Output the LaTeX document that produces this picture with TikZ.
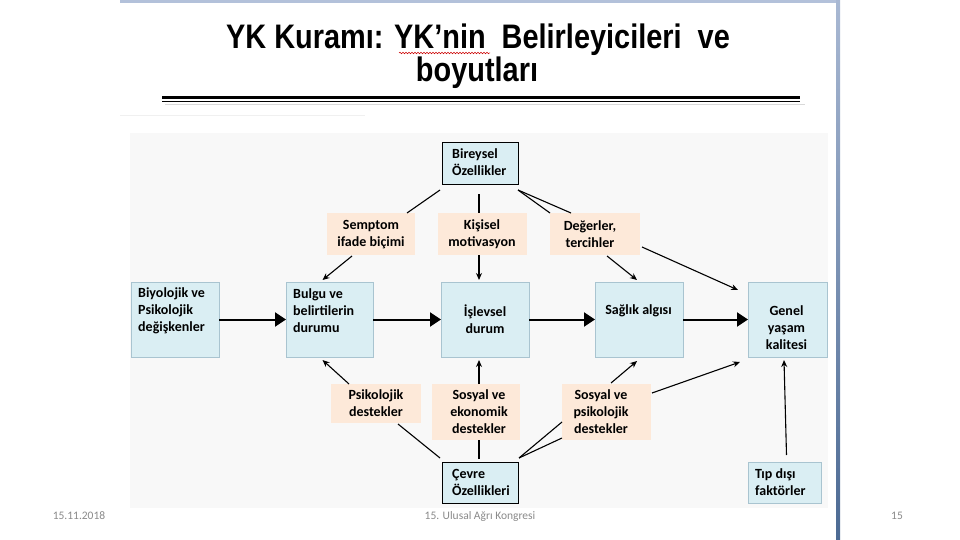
\documentclass[tikz,border=0pt]{standalone}
\usepackage{fontspec}
\setmainfont{Carlito}
\newfontfamily\titlefont[FakeStretch=0.85]{Liberation Sans}
\usetikzlibrary{arrows.meta,calc,decorations.pathmorphing}
\definecolor{boxblue}{HTML}{DAEEF3}
\definecolor{boxedge}{HTML}{A9C4D0}
\definecolor{boxpeach}{HTML}{FDE9D9}
\definecolor{framelight}{HTML}{B3C1DA}
\definecolor{framedark}{HTML}{4C6A93}
\definecolor{footgray}{HTML}{8A8A8A}
\definecolor{diagbg}{HTML}{F8F8F8}
\begin{document}
\begin{tikzpicture}[x=1pt,y=-1pt,
  box/.style={rectangle, inner sep=0pt, outer sep=0pt},
  bluebox/.style={box, fill=boxblue, draw=boxedge, line width=0.6pt},
  blackbox/.style={box, fill=boxblue, draw=black, line width=0.8pt},
  peachbox/.style={box, fill=boxpeach},
  lbl/.style={font=\bfseries\fontsize{14}{17}\selectfont, inner sep=0pt, align=center},
  lbll/.style={lbl, align=left, anchor=west},
  mainarrow/.style={line width=2pt, -{Triangle[length=11pt,width=14pt]}},
  conn/.style={line width=1.1pt},
  conarr/.style={conn, -{Stealth[length=7pt,width=6pt]}},
  foot/.style={font=\fontsize{11.5}{13}\selectfont, text=footgray, anchor=base, inner sep=0pt},
  ttl/.style={font=\titlefont\bfseries\fontsize{34}{40}\selectfont, anchor=base, inner sep=0pt}
]
\useasboundingbox (0,0) rectangle (960,540);
\fill[white] (0,0) rectangle (960,540);
% slide frame
\fill[framelight] (120,0) rectangle (838,3);
\shade[top color=framelight!90!framedark, bottom color=framedark] (836,0) rectangle (840,540);
% title
\node[ttl] (t1) at (478,49) {YK Kuramı: YK’nin\ \ Belirleyicileri\ \ ve};
\node[ttl] (t2) at (477,82) {boyutları};
\draw[red!80!black, line width=0.5pt, decorate, decoration={snake, amplitude=0.8pt, segment length=3pt}] (399,53) -- (490,53);
% rules under title
\draw[line width=2.5pt] (162,97.5) -- (800,97.5);
\draw[line width=1pt] (162,101.5) -- (800,101.5);
\draw[gray!30, line width=1.5pt] (165,104.5) -- (805,104.5);
\draw[gray!12, line width=1pt] (120,116) -- (365,116);
% diagram background
\fill[diagbg] (130,133) rectangle (828,508);

% boxes
\node[bluebox, minimum width=88, minimum height=75] (bio) at (175,319.5) {};
\node[bluebox, minimum width=87, minimum height=75] (bulgu) at (329.5,319.5) {};
\node[bluebox, minimum width=88, minimum height=75] (isl) at (485,319.5) {};
\node[bluebox, minimum width=88, minimum height=75] (sag) at (639,319.5) {};
\node[bluebox, minimum width=79, minimum height=75] (genel) at (787.5,319.5) {};
\node[blackbox, minimum width=76, minimum height=42] (birey) at (480,163) {};
\node[blackbox, minimum width=76, minimum height=41] (cevre) at (480,482.5) {};
\node[bluebox, minimum width=73, minimum height=41] (tip) at (784.5,482.5) {};
\node[peachbox, minimum width=88, minimum height=42] (semp) at (371,234) {};
\node[peachbox, minimum width=89, minimum height=42] (kis) at (482.5,234) {};
\node[peachbox, minimum width=90, minimum height=42] (deg) at (595,234) {};
\node[peachbox, minimum width=90, minimum height=39] (psi) at (376,403.5) {};
\node[peachbox, minimum width=88, minimum height=56] (sek) at (476,412) {};
\node[peachbox, minimum width=89, minimum height=56] (spd) at (606.5,412) {};

% texts
\node[lbll] (bio-t) at (138,311) {Biyolojik ve\\Psikolojik\\değişkenler};
\node[lbll] (bulgu-t) at (293,311) {Bulgu ve\\belirtilerin\\durumu};
\node[lbl] (isl-t) at (485,319.5) {İşlevsel\\durum};
\node[lbl] (sag-t) at (638.5,311) {Sağlık algısı};
\node[lbl] (genel-t) at (786.5,328) {Genel\\yaşam\\kalitesi};
\node[lbll] (birey-t) at (452,162.5) {Bireysel\\Özellikler};
\node[lbll] (cevre-t) at (452,482.5) {Çevre\\Özellikleri};
\node[lbll] (tip-t) at (755,482.5) {Tıp dışı\\faktörler};
\node[lbl] (semp-t) at (371,234.5) {Semptom\\ifade biçimi};
\node[lbl] (kis-t) at (482,234.5) {Kişisel\\motivasyon};
\node[lbl] (deg-t) at (590,234.5) {Değerler,\\tercihler};
\node[lbl] (psi-t) at (376,403) {Psikolojik\\destekler};
\node[lbl] (sek-t) at (479,411.5) {Sosyal ve\\ekonomik\\destekler};
\node[lbl] (spd-t) at (601,411.5) {Sosyal ve\\psikolojik\\destekler};

% main arrows
\draw[mainarrow] (bio.east) -- (bulgu.west);
\draw[mainarrow] (bulgu.east) -- (isl.west);
\draw[mainarrow] (isl.east) -- (sag.west);
\draw[mainarrow] (sag.east) -- (genel.west);

% upper connectors
\draw[conn] ([xshift=-2,yshift=-6]birey.south west) -- ([xshift=-8]semp.north east);
\draw[conarr] ([xshift=-19,yshift=-1]semp.south) -- ([xshift=-7,yshift=2]bulgu.north);
\draw[conn] ([xshift=-1,yshift=-10]birey.south) -- ([xshift=-1]birey.south |- kis.north);
\draw[conarr] ([xshift=-1]birey.south |- kis.south) -- ([xshift=-1,yshift=2]birey.south |- isl.north);
\draw[conn] ([yshift=-6]birey.south east) -- (deg.north west);
\draw[conn] ([yshift=-6]birey.south east) -- ([xshift=21]deg.north west);
\draw[conarr] ([xshift=12,yshift=-1]deg.south) -- ([xshift=-2,yshift=2]sag.north);
\draw[conarr] ([xshift=2,yshift=8]deg.south east) -- ([xshift=-10,yshift=-8]genel.north west);

% lower connectors
\draw[conn] ([xshift=-2,yshift=4]cevre.north west) -- ([xshift=22,yshift=-1]psi.south);
\draw[conarr] ([xshift=-27]psi.north) -- ([xshift=-7,yshift=-3]bulgu.south);
\draw[conn] ([xshift=-1,yshift=3]cevre.north) -- ([xshift=-1]cevre.north |- sek.south);
\draw[conarr] ([xshift=-1]cevre.north |- sek.north) -- ([xshift=-1,yshift=-3]cevre.north |- isl.south);
\draw[conn] ([xshift=1,yshift=4]cevre.north east) -- ([yshift=-10]spd.west);
\draw[conn] ([xshift=1,yshift=4]cevre.north east) -- ([yshift=-26]spd.west);
\draw[conarr] ([xshift=4.5,yshift=1]spd.north) -- ([xshift=-2,yshift=-4]sag.south);
\draw[conarr] ([xshift=1,yshift=-9]spd.north east) -- ([xshift=-8,yshift=-5]genel.south west);
\draw[conarr] ([xshift=2,yshift=7]tip.north) -- ([xshift=-0.5,yshift=-3]tip.north |- genel.south);

% footer
\node[foot] (date) at (79,519) {15.11.2018};
\node[foot] (conf) at (480,519) {15. Ulusal Ağrı Kongresi};
\node[foot] (page) at (897,519) {15};
\end{tikzpicture}
\end{document}
